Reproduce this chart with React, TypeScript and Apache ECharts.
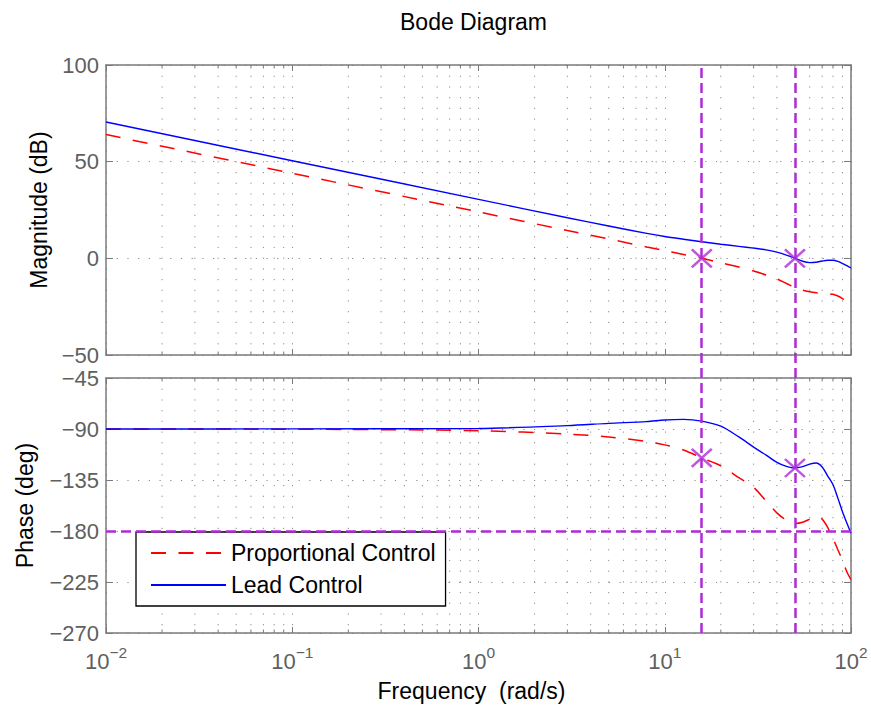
import React, { useEffect, useRef } from 'react';
import * as echarts from 'echarts';

// ---- data ----
const freq = [0.01, 0.1, 1, 3, 5, 8, 10, 12.6, 15.8, 20, 25, 30, 35, 40, 45, 50, 55, 60, 65, 70, 75, 80, 85, 90, 95, 100];
const magProportional = [64, 44, 24, 14.4, 10, 5.9, 4.0, 2.0, 0, -2.3, -4.5, -6.6, -8.6, -10.6, -13, -15.2, -16.5, -17.3, -17.8, -18.1, -18.3, -18.6, -19.5, -20.8, -22.3, -23.7];
const magLead = [70.5, 50.5, 30.5, 21.0, 16.7, 12.9, 11.3, 9.9, 8.6, 7.3, 6.2, 5.3, 4.4, 3.2, 1.7, 0, -1.5, -2.2, -2.0, -1.4, -1.0, -1.0, -1.6, -2.7, -3.8, -5.0];
const phaseProportional = [-90, -90.2, -91.5, -94.5, -97, -101, -104, -108.5, -115.5, -122.5, -133, -141.5, -153.5, -164, -170.5, -173.4, -172.3, -169.5, -167, -169.5, -177, -186.5, -196.5, -206, -216, -223];
const phaseLead = [-90, -89.9, -89.5, -87, -85, -83.5, -82, -81.5, -83, -87.5, -97, -106, -113, -119.5, -123, -124.4, -123.2, -121, -120, -123.5, -131.5, -139, -151, -163, -173, -182];

const crossoverFreqs = [15.8, 50];
const crossoverMag = [0, 0];
const marginPhase = [-115.5, -124.4];
const phaseCrossLevel = [-180];

const magTicks = { min: -50, max: 100, interval: 50 };
const phaseTicks = { min: -270, max: -45, interval: 45 };
const freqRange = { min: 0.01, max: 100 };
const minorTicks = [
  0.02, 0.03, 0.04, 0.05, 0.06, 0.07, 0.08, 0.09,
  0.2, 0.3, 0.4, 0.5, 0.6, 0.7, 0.8, 0.9,
  2, 3, 4, 5, 6, 7, 8, 9,
  20, 30, 40, 50, 60, 70, 80, 90,
];

const FONT = '"Liberation Sans", Arial, Helvetica, sans-serif';
const AXIS_GRAY = '#7a7a7a';
const LABEL_GRAY = '#606060';
const GRID_GRAY = '#8a8a8a';
const PURPLE = '#b02ad8';
const DOT: number[] = [1.2, 9.5];

const GRID_LEFT = 106;
const GRID_WIDTH = 745;
const TOP_Y = 65;
const TOP_H = 290;
const BOT_Y = 378;
const BOT_H = 255;

function fmtNum(v: number): string {
  return v < 0 ? '\u2212' + String(-v) : String(v);
}

function minorGrid(xi: number, yi: number, yMin: number, yMax: number) {
  return {
    type: 'custom',
    xAxisIndex: xi,
    yAxisIndex: yi,
    silent: true,
    z: 1,
    data: minorTicks.map((v) => [v, yMin]),
    renderItem: (_params: any, api: any) => {
      const x = api.value(0);
      const top = api.coord([x, yMax]);
      const bot = api.coord([x, yMin]);
      return {
        type: 'group',
        children: [
          {
            type: 'line',
            shape: { x1: top[0], y1: top[1], x2: bot[0], y2: bot[1] },
            style: { stroke: GRID_GRAY, lineWidth: 1, lineDash: DOT },
          },
          {
            type: 'line',
            shape: { x1: top[0], y1: top[1], x2: top[0], y2: top[1] + 3.5 },
            style: { stroke: AXIS_GRAY, lineWidth: 1 },
          },
          {
            type: 'line',
            shape: { x1: bot[0], y1: bot[1], x2: bot[0], y2: bot[1] - 3.5 },
            style: { stroke: AXIS_GRAY, lineWidth: 1 },
          },
        ],
      };
    },
  };
}

function xAxisBase(gridIndex: number, position: 'top' | 'bottom', showLabel: boolean, split: boolean) {
  return {
    type: 'log',
    logBase: 10,
    gridIndex,
    position,
    min: freqRange.min,
    max: freqRange.max,
    axisLine: { show: true, onZero: false, lineStyle: { color: AXIS_GRAY, width: 1.5 } },
    axisTick: { show: true, inside: true, length: 6, lineStyle: { color: AXIS_GRAY, width: 1 } },
    splitLine: { show: split, lineStyle: { color: GRID_GRAY, width: 1, type: DOT } },
    axisLabel: showLabel
      ? {
          show: true,
          margin: 11,
          formatter: (v: number) => {
            const e = Math.round(Math.log10(v));
            return '{b|10}{s|' + fmtNum(e) + '}';
          },
          rich: {
            b: { fontSize: 22, fontFamily: FONT, color: LABEL_GRAY, lineHeight: 34 },
            s: { fontSize: 15.5, fontFamily: FONT, color: LABEL_GRAY, lineHeight: 10, verticalAlign: 'top' },
          },
        }
      : { show: false },
  };
}

function yAxisBase(gridIndex: number, position: 'left' | 'right', ticks: { min: number; max: number; interval: number }, showLabel: boolean, split: boolean) {
  return {
    type: 'value',
    gridIndex,
    position,
    min: ticks.min,
    max: ticks.max,
    interval: ticks.interval,
    axisLine: { show: true, onZero: false, lineStyle: { color: AXIS_GRAY, width: 1.5 } },
    axisTick: { show: true, inside: true, length: 7, lineStyle: { color: AXIS_GRAY, width: 1 } },
    splitLine: { show: split, lineStyle: { color: GRID_GRAY, width: 1, type: DOT } },
    axisLabel: showLabel
      ? { show: true, margin: 7, fontSize: 22, fontFamily: FONT, color: LABEL_GRAY, formatter: (v: number) => fmtNum(v) }
      : { show: false },
  };
}

export default function App() {
  const ref = useRef<HTMLDivElement>(null);

  useEffect(() => {
    if (!ref.current) return;
    const chart = echarts.init(ref.current, undefined, { renderer: 'svg' });

    const pairs = (ys: number[]) => freq.map((f, i) => [f, ys[i]]);

    const redStyle = { color: '#ff0000', width: 1.5, type: [15, 12.5] as number[] };
    const blueStyle = { color: '#0000ff', width: 1.4, type: 'solid' };

    const xMarker = 'path://M0,0L20,18M20,0L0,18';

    const option: any = {
      animation: false,
      backgroundColor: '#ffffff',
      title: {
        text: 'Bode Diagram',
        left: 395,
        top: 5,
        textStyle: { fontSize: 23, fontWeight: 'normal', fontFamily: FONT, color: '#000' },
      },
      legend: {
        data: ['Proportional Control', 'Lead Control'],
        orient: 'vertical',
        left: 136,
        top: 532,
        padding: [9, 10, 9, 14],
        itemWidth: 75,
        itemHeight: 14,
        itemGap: 8,
        selectedMode: false,
        backgroundColor: '#ffffff',
        borderColor: '#000000',
        borderWidth: 1.3,
        borderRadius: 0,
        itemStyle: { opacity: 0 },
        textStyle: { fontSize: 23, fontFamily: FONT, color: '#000', lineHeight: 24 },
      },
      grid: [
        { left: GRID_LEFT, top: TOP_Y, width: GRID_WIDTH, height: TOP_H },
        { left: GRID_LEFT, top: BOT_Y, width: GRID_WIDTH, height: BOT_H },
        { left: GRID_LEFT, top: TOP_Y, width: GRID_WIDTH, height: BOT_Y + BOT_H - TOP_Y },
      ],
      xAxis: [
        xAxisBase(0, 'bottom', false, true),
        xAxisBase(0, 'top', false, false),
        {
          ...xAxisBase(1, 'bottom', true, true),
          name: 'Frequency  (rad/s)',
          nameLocation: 'middle',
          nameGap: 46,
          nameTextStyle: { fontSize: 23, fontFamily: FONT, color: '#000', padding: [0, 14, 0, 0] },
        },
        xAxisBase(1, 'top', false, false),
        { type: 'log', logBase: 10, gridIndex: 2, min: freqRange.min, max: freqRange.max, show: false },
      ],
      yAxis: [
        {
          ...yAxisBase(0, 'left', magTicks, true, true),
          name: 'Magnitude (dB)',
          nameLocation: 'middle',
          nameGap: 56,
          nameRotate: 90,
          nameTextStyle: { fontSize: 23, fontFamily: FONT, color: '#000' },
        },
        yAxisBase(0, 'right', magTicks, false, false),
        {
          ...yAxisBase(1, 'left', phaseTicks, true, true),
          name: 'Phase (deg)',
          nameLocation: 'middle',
          nameGap: 70,
          nameRotate: 90,
          nameTextStyle: { fontSize: 23, fontFamily: FONT, color: '#000' },
        },
        yAxisBase(1, 'right', phaseTicks, false, false),
        { type: 'value', gridIndex: 2, min: 0, max: 1, show: false },
      ],
      series: [
        minorGrid(0, 0, magTicks.min, magTicks.max),
        minorGrid(2, 2, phaseTicks.min, phaseTicks.max),
        {
          name: 'Proportional Control',
          type: 'line',
          xAxisIndex: 0,
          yAxisIndex: 0,
          data: pairs(magProportional),
          symbol: 'none',
          showSymbol: false,
          smooth: 0.3,
          lineStyle: redStyle,
          itemStyle: { color: '#ff0000' },
          z: 3,
        },
        {
          name: 'Lead Control',
          type: 'line',
          xAxisIndex: 0,
          yAxisIndex: 0,
          data: pairs(magLead),
          symbol: 'none',
          showSymbol: false,
          smooth: 0.3,
          lineStyle: blueStyle,
          itemStyle: { color: '#0000ff' },
          z: 3,
        },
        {
          name: 'Proportional Control',
          type: 'line',
          xAxisIndex: 2,
          yAxisIndex: 2,
          data: pairs(phaseProportional),
          symbol: 'none',
          showSymbol: false,
          smooth: 0.3,
          lineStyle: redStyle,
          itemStyle: { color: '#ff0000' },
          z: 3,
        },
        {
          name: 'Lead Control',
          type: 'line',
          xAxisIndex: 2,
          yAxisIndex: 2,
          data: pairs(phaseLead),
          symbol: 'none',
          showSymbol: false,
          smooth: 0.3,
          lineStyle: blueStyle,
          itemStyle: { color: '#0000ff' },
          z: 3,
        },
        {
          name: 'phase-ref',
          type: 'line',
          xAxisIndex: 2,
          yAxisIndex: 2,
          data: [],
          silent: true,
          z: 4,
          markLine: {
            silent: true,
            symbol: ['none', 'none'],
            label: { show: false },
            lineStyle: { color: PURPLE, width: 2.5, type: [10, 5] },
            data: phaseCrossLevel.map((v) => ({ yAxis: v })),
          },
        },
        {
          name: 'crossover-lines',
          type: 'line',
          xAxisIndex: 4,
          yAxisIndex: 4,
          data: [],
          silent: true,
          z: 4,
          markLine: {
            silent: true,
            symbol: ['none', 'none'],
            label: { show: false },
            lineStyle: { color: PURPLE, width: 2.5, type: [10, 5] },
            data: crossoverFreqs.map((f) => ({ xAxis: f })),
          },
        },
        {
          name: 'mag-markers',
          type: 'scatter',
          xAxisIndex: 0,
          yAxisIndex: 0,
          data: crossoverFreqs.map((f, i) => [f, crossoverMag[i]]),
          symbol: xMarker,
          symbolSize: [20, 18],
          silent: true,
          z: 6,
          itemStyle: { color: 'none', borderColor: PURPLE, borderWidth: 2.5 },
        },
        {
          name: 'phase-markers',
          type: 'scatter',
          xAxisIndex: 2,
          yAxisIndex: 2,
          data: crossoverFreqs.map((f, i) => [f, marginPhase[i]]),
          symbol: xMarker,
          symbolSize: [20, 18],
          silent: true,
          z: 6,
          itemStyle: { color: 'none', borderColor: PURPLE, borderWidth: 2.5 },
        },
      ],
    };

    chart.setOption(option);
    return () => {
      chart.dispose();
    };
  }, []);

  return (
    <div
      ref={ref}
      style={{ position: 'fixed', left: 0, top: 0, width: 871, height: 706, background: '#fff' }}
    />
  );
}
